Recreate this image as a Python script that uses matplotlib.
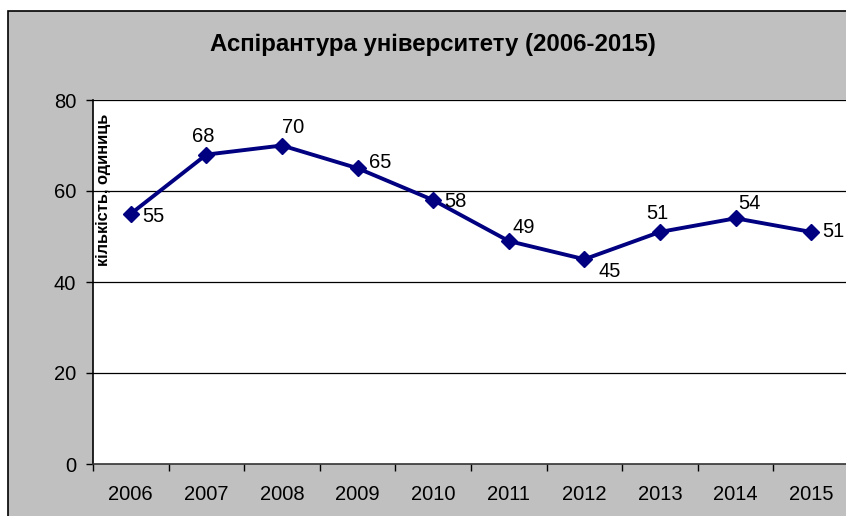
import matplotlib
matplotlib.use('Agg')
import matplotlib.pyplot as plt
from matplotlib.patches import Rectangle
import numpy as np

years = ['2006', '2007', '2008', '2009', '2010', '2011', '2012', '2013', '2014', '2015']
counts = [55, 68, 70, 65, 58, 49, 45, 51, 54, 51]
yticks = [0, 20, 40, 60, 80]

title = 'Аспірантура університету (2006-2015)'
ylabel = 'кількість, одиниць'

# label offsets in points (dx, dy) and alignment, mimic Excel placement
label_pos = [(8, -2, 'left'), (-2, 13, 'center'), (8, 13, 'center'), (8, 4, 'left'),
             (8, -1, 'left'), (3, 10, 'left'), (10, -9, 'left'), (-2, 13, 'center'),
             (10, 11, 'center'), (8, 0, 'left')]

plt.rcParams['font.family'] = ['Liberation Sans', 'DejaVu Sans']

W, H = 846, 516
fig = plt.figure(figsize=(W / 100, H / 100), dpi=100, facecolor='white')

# chart area background with border
bg = Rectangle((8 / W, -0.1), 1.2, 1 - 11 / H + 0.1, transform=fig.transFigure,
               facecolor='#c0c0c0', edgecolor='black', linewidth=1.2, zorder=-5)
fig.patches.append(bg)

ax = fig.add_axes([93 / W, (H - 464) / H, (849 - 93) / W, 364 / H])
ax.set_facecolor('white')

x = np.arange(len(years))
ax.plot(x, counts, color='#000080', linewidth=2.8, marker='D', markersize=8,
        markerfacecolor='#000080', markeredgecolor='#000080', zorder=3, clip_on=False)

for xi, v, (dx, dy, ha) in zip(x, counts, label_pos):
    ax.annotate(str(v), (xi, v), xytext=(dx, dy), textcoords='offset points',
                ha=ha, va='center', fontsize=14.5, color='black')

ax.set_xlim(-0.5, len(years) - 0.5)
ax.set_ylim(0, 80)
ax.set_yticks(yticks)
ax.set_yticklabels([str(t) for t in yticks])
ax.set_xticks(x)
ax.set_xticklabels(years)
ax.set_xticks(np.arange(len(years) + 1) - 0.5, minor=True)
ax.tick_params(axis='x', which='major', length=0, pad=15, labelsize=14.5)
ax.tick_params(axis='x', which='minor', length=5, width=1, direction='out')
ax.tick_params(axis='y', length=5, width=1, direction='out', pad=7, labelsize=14.5)

for t in yticks[1:]:
    ax.axhline(t, color='black', linewidth=0.9, zorder=1)

for s in ['top', 'right']:
    ax.spines[s].set_visible(False)
ax.spines['left'].set_linewidth(1.2)
ax.spines['bottom'].set_linewidth(1.2)
ax.spines['bottom'].set_color('#333333')

fig.text(433 / W, 1 - 45 / H, title, ha='center', va='center', fontsize=17.3,
         fontweight='bold')
fig.text(103 / W, 1 - 190 / H, ylabel, ha='center', va='center', rotation=90,
         fontsize=11.8, fontweight='bold')

fig.savefig('out.png', dpi=100, facecolor=fig.get_facecolor())
